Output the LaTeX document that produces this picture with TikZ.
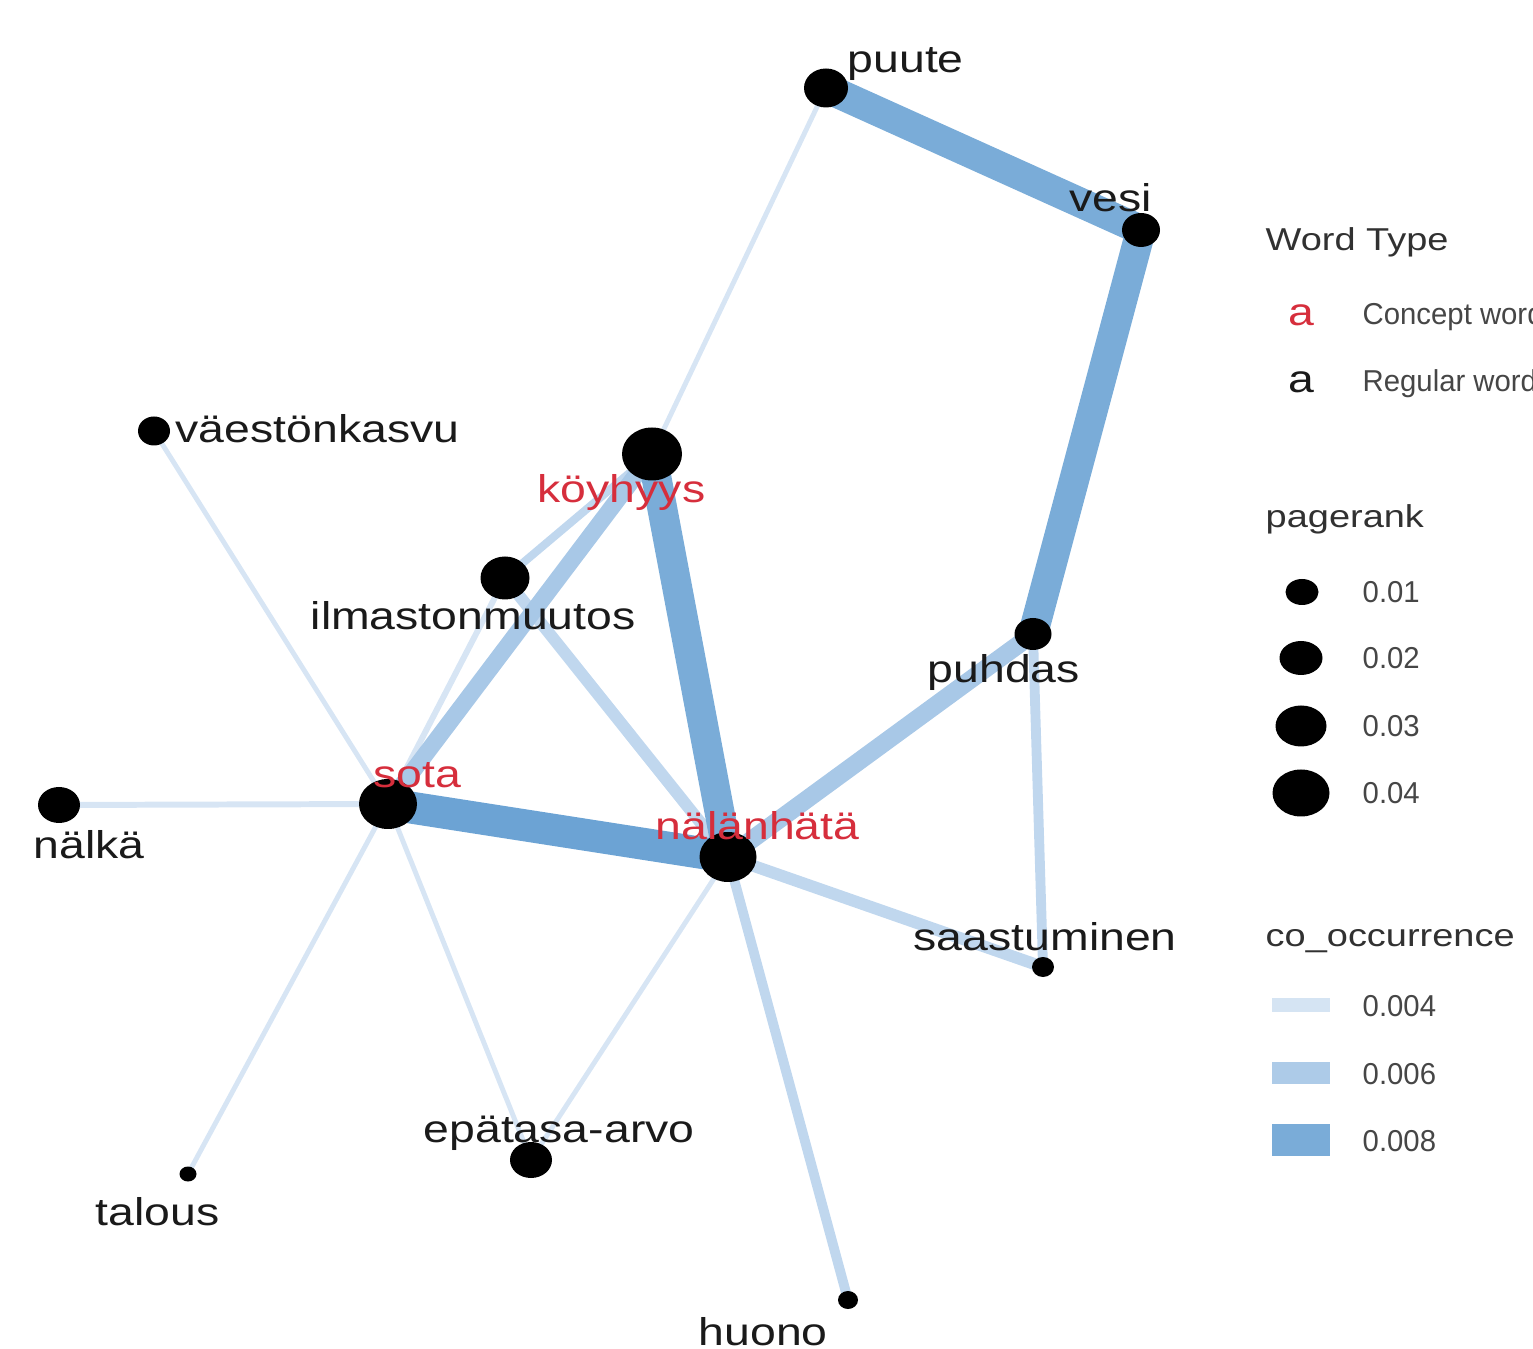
\documentclass[tikz,border=0pt]{standalone}
\usepackage{fontspec}
\setmainfont{Liberation Sans}[FakeStretch=1.2]
\newfontfamily\keyfont{Liberation Sans}[FakeStretch=0.97]
\usepackage{tikz}
\usetikzlibrary{shapes,calc,positioning,backgrounds}
\definecolor{conceptred}{RGB}{214,46,60}
\definecolor{wordgray}{RGB}{26,26,26}
\definecolor{keygray}{RGB}{70,70,70}
\definecolor{tiedark}{RGB}{108,163,212}
\definecolor{tiehigh}{RGB}{122,172,216}
\definecolor{tiemid}{RGB}{168,200,231}
\definecolor{tielow}{RGB}{192,215,238}
\definecolor{tiepale}{RGB}{215,229,244}
\tikzstyle{dot} = [ellipse, fill=black, inner sep=0pt]
\tikzstyle{word} = [inner sep=0pt, anchor=base west, text=wordgray, font=\fontsize{11}{13}\selectfont]
\tikzstyle{concept} = [word, text=conceptred]
\tikzstyle{keytitle} = [inner sep=0pt, anchor=base west, text=keygray!70!black, font=\fontsize{9}{11}\selectfont]
\tikzstyle{keylabel} = [inner sep=0pt, anchor=base west, text=keygray, font=\keyfont\fontsize{8.6}{10}\selectfont]
\tikzstyle{swatch} = [inner sep=0pt, minimum width=.58cm]

\begin{document}
\begin{tikzpicture}
	\useasboundingbox (0,0) rectangle (15.33,-13.49);
	\clip (0,0) rectangle (15.33,-13.49);
	\node (puute) at (8.26,-0.88) [dot,minimum width=.44cm,minimum height=.39cm] {};
	\node (vesi) at (11.41,-2.30) [dot,minimum width=.38cm,minimum height=.34cm] {};
	\node (koyhyys) at (6.52,-4.54) [dot,minimum width=.60cm,minimum height=.53cm] {};
	\node (vaesto) at (1.54,-4.31) [dot,minimum width=.32cm,minimum height=.29cm] {};
	\node (ilmasto) at (5.05,-5.78) [dot,minimum width=.49cm,minimum height=.43cm] {};
	\node (puhdas) at (10.33,-6.34) [dot,minimum width=.37cm,minimum height=.32cm] {};
	\node (nalka) at (0.59,-8.05) [dot,minimum width=.42cm,minimum height=.36cm] {};
	\node (sota) at (3.88,-8.04) [dot,minimum width=.58cm,minimum height=.50cm] {};
	\node (nalanhata) at (7.28,-8.57) [dot,minimum width=.57cm,minimum height=.50cm] {};
	\node (saastu) at (10.43,-9.67) [dot,minimum width=.22cm,minimum height=.20cm] {};
	\node (talous) at (1.88,-11.74) [dot,minimum width=.17cm,minimum height=.15cm] {};
	\node (epatasa) at (5.31,-11.60) [dot,minimum width=.42cm,minimum height=.36cm] {};
	\node (huono) at (8.48,-13.00) [dot,minimum width=.20cm,minimum height=.18cm] {};
	
	\begin{pgfonlayer}{background}
		\draw[tiepale,line width=1.4pt] (puute.center) -- (koyhyys.center);
		\draw[tiepale,line width=1.4pt] (vaesto.center) -- (sota.center);
		\draw[tiepale,line width=1.7pt] (nalka.center) -- (sota.center);
		\draw[tiepale,line width=1.4pt] (talous.center) -- (sota.center);
		\draw[tiepale,line width=1.4pt] (epatasa.center) -- (sota.center);
		\draw[tiepale,line width=1.4pt] (epatasa.center) -- (nalanhata.center);
		\draw[tiepale,line width=1.7pt] (ilmasto.center) -- (sota.center);
		\draw[tielow,line width=2.3pt] (ilmasto.center) -- (koyhyys.center);
		\draw[tielow,line width=3.4pt] (ilmasto.center) -- (nalanhata.center);
		\draw[tielow,line width=2.8pt] (huono.center) -- (nalanhata.center);
		\draw[tielow,line width=3.4pt] (saastu.center) -- (nalanhata.center);
		\draw[tielow,line width=2.8pt] (saastu.center) -- (puhdas.center);
		\draw[tiemid,line width=5.1pt] (puhdas.center) -- (nalanhata.center);
		\draw[tiemid,line width=4.8pt] (sota.center) -- (koyhyys.center);
		\draw[tiehigh,line width=8.5pt] (koyhyys.center) -- (nalanhata.center);
		\draw[tiedark,line width=9.1pt] (sota.center) -- (nalanhata.center);
		\draw[tiehigh,line width=8.5pt] (puute.center) -- (vesi.center);
		\draw[tiehigh,line width=8.5pt] (vesi.center) -- (puhdas.center);
	\end{pgfonlayer}
	
	\node (puute-t) at (8.47,-0.73) [word] {puute};
	\node (vesi-t) at (10.69,-2.12) [word] {vesi};
	\node (koyhyys-t) at (5.37,-5.03) [concept] {köyhyys};
	\node (vaesto-t) at (1.75,-4.43) [word] {väestönkasvu};
	\node (ilmasto-t) at (3.10,-6.30) [word] {ilmastonmuutos};
	\node (puhdas-t) at (9.27,-6.83) [word] {puhdas};
	\node (sota-t) at (3.73,-7.88) [concept] {sota};
	\node (nalanhata-t) at (6.55,-8.40) [concept] {nälänhätä};
	\node (nalka-t) at (0.33,-8.58) [word] {nälkä};
	\node (saastu-t) at (9.13,-9.50) [word] {saastuminen};
	\node (talous-t) at (0.95,-12.25) [word] {talous};
	\node (epatasa-t) at (4.23,-11.42) [word] {epätasa-arvo};
	\node (huono-t) at (6.98,-13.45) [word] {huono};
	
	\node (typetitle) at (12.65,-2.51) [keytitle] {Word Type};
	\node (typeconcept) at (12.88,-3.26) [concept] {a};
	\node (typeconcept-t) at (13.62,-3.25) [keylabel] {Concept word};
	\node (typeregular) at (12.88,-3.93) [word] {a};
	\node (typeregular-t) at (13.62,-3.92) [keylabel] {Regular word};
	
	\node (ranktitle) at (12.65,-5.28) [keytitle] {pagerank};
	\node (rank1) at (13.02,-5.92) [dot,minimum width=.33cm,minimum height=.26cm] {};
	\node (rank2) at (13.01,-6.58) [dot,minimum width=.43cm,minimum height=.34cm] {};
	\node (rank3) at (13.01,-7.26) [dot,minimum width=.51cm,minimum height=.41cm] {};
	\node (rank4) at (13.01,-7.93) [dot,minimum width=.57cm,minimum height=.47cm] {};
	\node (rank1-t) at (13.62,-6.03) [keylabel] {0.01};
	\node (rank2-t) at (13.62,-6.69) [keylabel] {0.02};
	\node (rank3-t) at (13.62,-7.37) [keylabel] {0.03};
	\node (rank4-t) at (13.62,-8.04) [keylabel] {0.04};
	
	\node (cotitle) at (12.65,-9.46) [keytitle] {co\_occurrence};
	\node (co4) at (13.01,-10.05) [swatch,fill=tiepale!90!tielow,minimum height=.14cm] {};
	\node (co6) at (13.01,-10.73) [swatch,fill=tiemid!80!tielow,minimum height=.22cm] {};
	\node (co8) at (13.01,-11.40) [swatch,fill=tiehigh,minimum height=.32cm] {};
	\node (co4-t) at (13.62,-10.16) [keylabel] {0.004};
	\node (co6-t) at (13.62,-10.84) [keylabel] {0.006};
	\node (co8-t) at (13.62,-11.51) [keylabel] {0.008};
\end{tikzpicture}
\end{document}
